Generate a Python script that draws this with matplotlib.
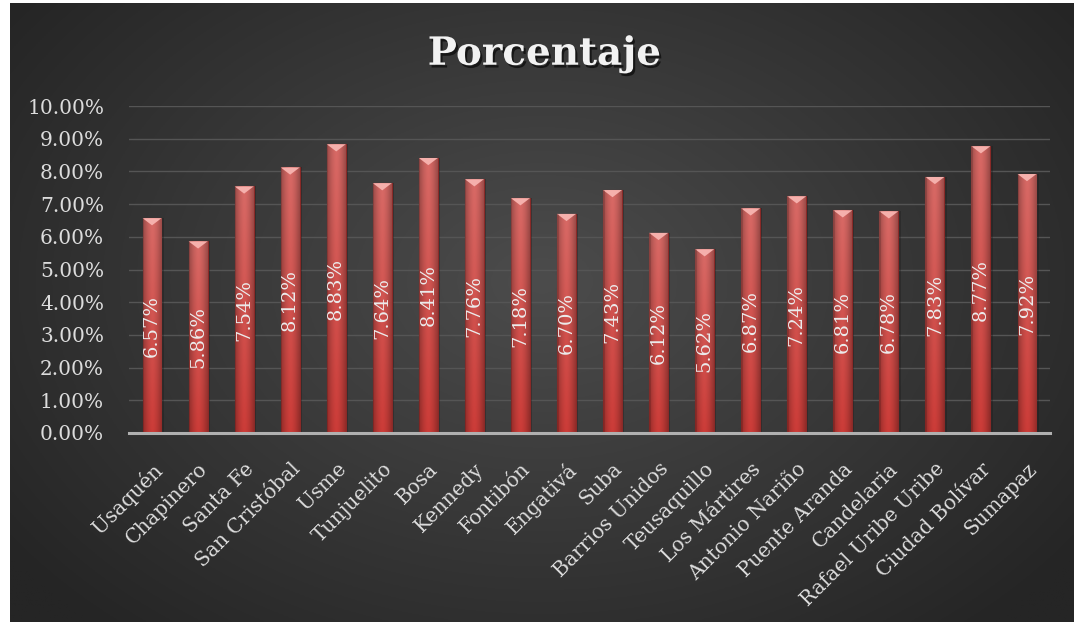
import numpy as np
import matplotlib
matplotlib.use("Agg")
import matplotlib.pyplot as plt
from matplotlib.patches import Polygon, Rectangle
import matplotlib.patheffects as pe
from matplotlib.ticker import FuncFormatter, MultipleLocator

categories = ["Usaquén", "Chapinero", "Santa Fe", "San Cristóbal", "Usme", "Tunjuelito",
              "Bosa", "Kennedy", "Fontibón", "Engativá", "Suba", "Barrios Unidos",
              "Teusaquillo", "Los Mártires", "Antonio Nariño", "Puente Aranda",
              "Candelaria", "Rafael Uribe Uribe", "Ciudad Bolívar", "Sumapaz"]
values = [6.57, 5.86, 7.54, 8.12, 8.83, 7.64, 8.41, 7.76, 7.18, 6.70,
          7.43, 6.12, 5.62, 6.87, 7.24, 6.81, 6.78, 7.83, 8.77, 7.92]
title = "Porcentaje"

W, H = 1074, 622
fig = plt.figure(figsize=(W / 100, H / 100), dpi=100, facecolor="white")

# background with radial gradient
bg = fig.add_axes([10 / W, 0, 1 - 10 / W, 1 - 3 / H])
bg.set_axis_off()
yy, xx = np.mgrid[0:1:300j, 0:1:500j]
r = np.sqrt(((xx - 0.5) / 0.62) ** 2 + ((yy - 0.45) / 0.75) ** 2)
r = np.clip(r, 0, 1)
c_in = np.array([0x4c, 0x4c, 0x4c]) / 255
c_out = np.array([0x25, 0x25, 0x25]) / 255
img = c_in[None, None, :] * (1 - r[..., None]) + c_out[None, None, :] * r[..., None]
bg.imshow(img, extent=(0, 1, 0, 1), aspect="auto", origin="upper")
bg.set_xlim(0, 1)
bg.set_ylim(0, 1)

ax = fig.add_axes([129 / W, 1 - 433 / H, (1050 - 129) / W, (433 - 106) / H])
ax.patch.set_alpha(0)
x = np.arange(len(categories))
bars = ax.bar(x, values, width=0.41, color="none", edgecolor="#8a2a28", linewidth=0.8, zorder=3)

# horizontal + vertical gradient for bars
nx, ny = 24, 60
u = np.linspace(-1, 1, nx)
hfac = 1 - 0.28 * np.abs(u) ** 1.6
base_bot = np.array([0xcc, 0x3c, 0x38]) / 255
base_top = np.array([0xd8, 0x6a, 0x66]) / 255
for b in bars:
    bx, bw, bh = b.get_x(), b.get_width(), b.get_height()
    t = np.linspace(1, 0, ny)[:, None, None]  # top row = 1
    col = base_bot * (1 - t) + base_top * t
    g = col * hfac[None, :, None]
    # shadow to the right
    ax.add_patch(Rectangle((bx + bw, 0), bw * 0.12, bh, facecolor="#1a1a1a", alpha=0.35,
                           edgecolor="none", zorder=2))
    im = ax.imshow(np.clip(g, 0, 1), extent=(bx, bx + bw, 0, bh), aspect="auto",
                   origin="upper", zorder=3, interpolation="bilinear")
    im.set_clip_path(b)
    dh = 0.22
    ax.add_patch(Polygon([(bx, bh), (bx + bw, bh), (bx + bw / 2, bh - dh)], closed=True,
                         facecolor="#f5b0ac", edgecolor="none", zorder=4))
    ax.add_patch(Polygon([(bx, bh), (bx + bw * 0.08, bh), (bx + bw * 0.08, 0), (bx, 0)],
                         closed=True, facecolor="#000000", alpha=0.12, edgecolor="none", zorder=4))

for xi, v in zip(x, values):
    ax.text(xi, v / 2, f"{v:.2f}%", rotation=90, ha="center", va="center",
            color="#ececec", fontsize=14, family="DejaVu Serif", zorder=5)

ax.set_xlim(-0.5, len(categories) - 0.5)
ax.set_ylim(0, 10)
ax.yaxis.set_major_locator(MultipleLocator(1))
ax.yaxis.set_major_formatter(FuncFormatter(lambda v, p: f"{v:.2f}%"))
ax.grid(axis="y", color="#555555", linewidth=1.0, zorder=0)
ax.set_axisbelow(True)
for s in ["top", "right", "left"]:
    ax.spines[s].set_visible(False)
ax.spines["bottom"].set_color("#b0b0b0")
ax.spines["bottom"].set_linewidth(2.2)
ax.spines["bottom"].set_zorder(6)
ax.tick_params(axis="both", length=0, colors="#dcdcdc", labelsize=14.5)
ax.tick_params(axis="y", pad=18)
ax.set_xticks(x)
ax.set_xticklabels(categories, rotation=45, ha="right", rotation_mode="anchor",
                   family="DejaVu Serif", fontsize=14.5, color="#dcdcdc")
for lab in ax.get_yticklabels():
    lab.set_family("DejaVu Serif")
ax.tick_params(axis="x", pad=19)

fig.text(0.507, 1 - 54 / H, title, ha="center", va="center", color="#f2f2f2",
         fontsize=28, fontweight="bold", family="DejaVu Serif",
         path_effects=[pe.withSimplePatchShadow(offset=(1.5, -2), shadow_rgbFace="black", alpha=0.6)])

fig.savefig("out.png", dpi=100, facecolor=fig.get_facecolor())
